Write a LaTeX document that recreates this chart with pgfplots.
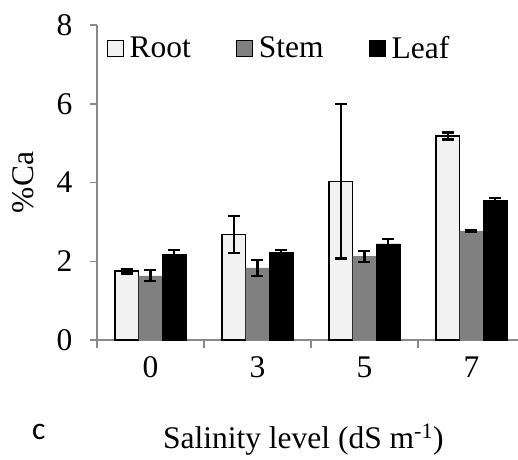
\documentclass[border=0pt]{standalone}
\usepackage{pgfplots}
\pgfplotsset{compat=1.18}
\usepackage{fontspec}
\setmainfont{Liberation Serif}
\newfontfamily\carlito{Carlito}
\definecolor{rootfill}{HTML}{F2F2F2}
\definecolor{stemfill}{HTML}{808080}
\definecolor{axisgray}{HTML}{898989}

\begin{document}
\begin{tikzpicture}[font=\fontsize{31.5}{37}\selectfont]
\useasboundingbox (0pt,0pt) rectangle (518pt,-459pt);
\begin{axis}[
    at={(97pt,-340pt)}, anchor=south west,
    scale only axis, width=421pt, height=315pt,
    ybar=0pt, bar width=23.7pt,
    xmin=-0.5, xmax=3.435, ymin=0, ymax=8,
    axis x line=bottom, axis y line=left,
    axis line style={axisgray, line width=1.5pt, -},
    xtick={0,1,2,3}, xticklabels={0,3,5,7},
    minor xtick={-0.5,0.5,1.5,2.5},
    ytick={0,2,4,6,8},
    tick align=outside,
    major tick length=7pt, minor tick length=8pt,
    major x tick style={draw=none},
    every tick/.style={axisgray, line width=1.5pt},
    minor tick style={axisgray, line width=1.5pt},
    /pgf/number format/assume math mode=true,
    xticklabel style={yshift=-6pt},
    yticklabel style={xshift=-14pt},
    ylabel={\%Ca},
    ylabel style={at={(axis description cs:-0.175,0.5)}, anchor=center},
    xlabel={Salinity level (dS m\textsuperscript{-1})},
    xlabel style={at={(axis description cs:0.49,0)}, anchor=base, yshift=-108pt},
    legend columns=3,
    legend style={draw=none, fill=none, at={(axis description cs:0.015,0.977)}, anchor=north west,
        /tikz/every odd column/.append style={column sep=4pt},
        /tikz/every even column/.append style={column sep=43pt}},
    legend image code/.code={\draw[#1, line width=1pt] (0pt,-8pt) rectangle (16pt,8pt);},
]
\addplot[fill=rootfill, draw=black, line width=1.5pt,
    error bars/.cd, y dir=both, y explicit,
    error bar style={black, line width=2.2pt},
    error mark options={rotate=90, black, line width=2.2pt, mark size=6pt}]
    coordinates {(0,1.75) +- (0,0.06) (1,2.68) +- (0,0.46) (2,4.03) +- (0,1.96) (3,5.18) +- (0,0.09)};
\addplot[fill=stemfill, draw=none,
    error bars/.cd, y dir=both, y explicit,
    error bar style={black, line width=2.2pt},
    error mark options={rotate=90, black, line width=2.2pt, mark size=6pt}]
    coordinates {(0,1.63) +- (0,0.14) (1,1.83) +- (0,0.20) (2,2.13) +- (0,0.14) (3,2.77) +- (0,0.03)};
\addplot[fill=black, draw=black,
    error bars/.cd, y dir=both, y explicit,
    error bar style={black, line width=2.2pt},
    error mark options={rotate=90, black, line width=2.2pt, mark size=6pt}]
    coordinates {(0,2.17) +- (0,0.12) (1,2.22) +- (0,0.07) (2,2.44) +- (0,0.12) (3,3.54) +- (0,0.06)};
\legend{Root, Stem, Leaf}
\end{axis}
\node[anchor=base west, inner sep=0pt] at (32pt,-439pt) {\carlito c};
\end{tikzpicture}
\end{document}
